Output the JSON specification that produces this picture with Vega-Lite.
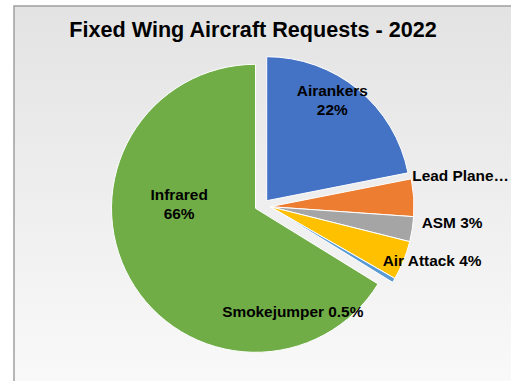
{
  "$schema": "https://vega.github.io/schema/vega-lite/v6.json",
  "width": 499,
  "height": 377,
  "autosize": {"type": "none"},
  "padding": {"left": 14, "top": 6, "right": -2, "bottom": -2},
  "background": "white",
  "view": {
    "fill": {"gradient": "linear", "x1": 0, "y1": 0, "x2": 0, "y2": 1,
      "stops": [{"offset": 0, "color": "#e3e3e3"}, {"offset": 1, "color": "#f9f9f9"}]},
    "stroke": "#a0a0a0",
    "strokeWidth": 1.5
  },
  "title": {
    "text": "Fixed Wing Aircraft Requests - 2022",
    "font": "Liberation Sans",
    "fontSize": 21.6,
    "fontWeight": "bold",
    "color": "#000000",
    "anchor": "middle",
    "frame": "group",
    "orient": "top",
    "offset": -33,
    "baseline": "alphabetic",
    "dx": -10.5,
    "dy": 19.5
  },
  "data": {
    "values": [
      {"cat": "Airtankers", "label": "Airankers\n22%", "value": 21.9},
      {"cat": "Lead Plane", "label": "Lead Plane…", "value": 4.2},
      {"cat": "ASM", "label": "ASM 3%", "value": 2.8},
      {"cat": "Air Attack", "label": "Air Attack 4%", "value": 4.4},
      {"cat": "Smokejumper", "label": "Smokejumper 0.5%", "value": 0.5},
      {"cat": "Infrared", "label": "Infrared\n66%", "value": 66.2}
    ]
  },
  "transform": [{"window": [{"op": "row_number", "as": "i"}]}],
  "encoding": {
    "theta": {"field": "value", "type": "quantitative", "stack": true},
    "order": {"field": "i", "type": "quantitative"}
  },
  "layer": [
    {
      "mark": {"type": "arc", "radius": 144, "stroke": "white", "strokeWidth": 1, "xOffset": -8, "yOffset": 13.8},
      "encoding": {
        "color": {"field": "cat", "type": "nominal", "legend": null,
          "scale": {"domain": ["Airtankers", "Lead Plane", "ASM", "Air Attack", "Smokejumper", "Infrared"],
                    "range": ["#4472C4", "#ED7D31", "#A5A5A5", "#FFC000", "#5B9BD5", "#70AD47"]}},
        "opacity": {"condition": {"test": "datum.cat === 'Infrared'", "value": 1}, "value": 0}
      }
    },
    {
      "mark": {"type": "arc", "radius": 144, "stroke": "white", "strokeWidth": 1, "xOffset": 3.2, "yOffset": 6.2},
      "encoding": {
        "color": {"field": "cat", "type": "nominal", "legend": null},
        "opacity": {"condition": {"test": "datum.cat === 'Airtankers'", "value": 1}, "value": 0}
      }
    },
    {
      "mark": {"type": "arc", "radius": 144, "stroke": "white", "strokeWidth": 1, "xOffset": 6.5, "yOffset": 12.2},
      "encoding": {
        "color": {"field": "cat", "type": "nominal", "legend": null},
        "opacity": {"condition": {"test": "datum.cat !== 'Airtankers' && datum.cat !== 'Infrared'", "value": 1}, "value": 0}
      }
    },
    {
      "mark": {"type": "text", "radius": 119, "xOffset": 3.2, "yOffset": 6.2, "dx": -10, "dy": -17.5, "align": "center", "baseline": "middle", "font": "Liberation Sans", "fontSize": 15.4, "fontWeight": "bold", "color": "#000000", "lineBreak": "\n", "lineHeight": 19},
      "encoding": {
        "detail": {"field": "cat", "type": "nominal"},
        "text": {"condition": {"test": "datum.cat === 'Airtankers'", "field": "label"}, "value": ""}
      }
    },
    {
      "mark": {"type": "text", "radius": 80, "xOffset": -8, "yOffset": 13.8, "dx": -6.5, "dy": -51.8, "align": "center", "baseline": "middle", "font": "Liberation Sans", "fontSize": 15.4, "fontWeight": "bold", "color": "#000000", "lineBreak": "\n", "lineHeight": 19},
      "encoding": {
        "detail": {"field": "cat", "type": "nominal"},
        "text": {"condition": {"test": "datum.cat === 'Infrared'", "field": "label"}, "value": ""}
      }
    },
    {
      "mark": {"type": "text", "radius": 143, "xOffset": 6.5, "yOffset": 12.2, "dx": -0.4, "dy": -22, "align": "left", "baseline": "middle", "font": "Liberation Sans", "fontSize": 15.4, "fontWeight": "bold", "color": "#000000"},
      "encoding": {
        "detail": {"field": "cat", "type": "nominal"},
        "text": {"condition": {"test": "datum.cat === 'Lead Plane'", "field": "label"}, "value": ""}
      }
    },
    {
      "mark": {"type": "text", "radius": 153, "xOffset": 6.5, "yOffset": 12.2, "dx": 0.6, "dy": -7.9, "align": "left", "baseline": "middle", "font": "Liberation Sans", "fontSize": 15.4, "fontWeight": "bold", "color": "#000000"},
      "encoding": {
        "detail": {"field": "cat", "type": "nominal"},
        "text": {"condition": {"test": "datum.cat === 'ASM'", "field": "label"}, "value": ""}
      }
    },
    {
      "mark": {"type": "text", "radius": 125, "xOffset": 6.5, "yOffset": 12.2, "dx": -3.2, "dy": 7.5, "align": "left", "baseline": "middle", "font": "Liberation Sans", "fontSize": 15.4, "fontWeight": "bold", "color": "#000000"},
      "encoding": {
        "detail": {"field": "cat", "type": "nominal"},
        "text": {"condition": {"test": "datum.cat === 'Air Attack'", "field": "label"}, "value": ""}
      }
    },
    {
      "mark": {"type": "text", "radius": 144, "xOffset": 6.5, "yOffset": 12.2, "dx": -30.4, "dy": 31.3, "align": "right", "baseline": "middle", "font": "Liberation Sans", "fontSize": 15.4, "fontWeight": "bold", "color": "#000000"},
      "encoding": {
        "detail": {"field": "cat", "type": "nominal"},
        "text": {"condition": {"test": "datum.cat === 'Smokejumper'", "field": "label"}, "value": ""}
      }
    }
  ]
}
